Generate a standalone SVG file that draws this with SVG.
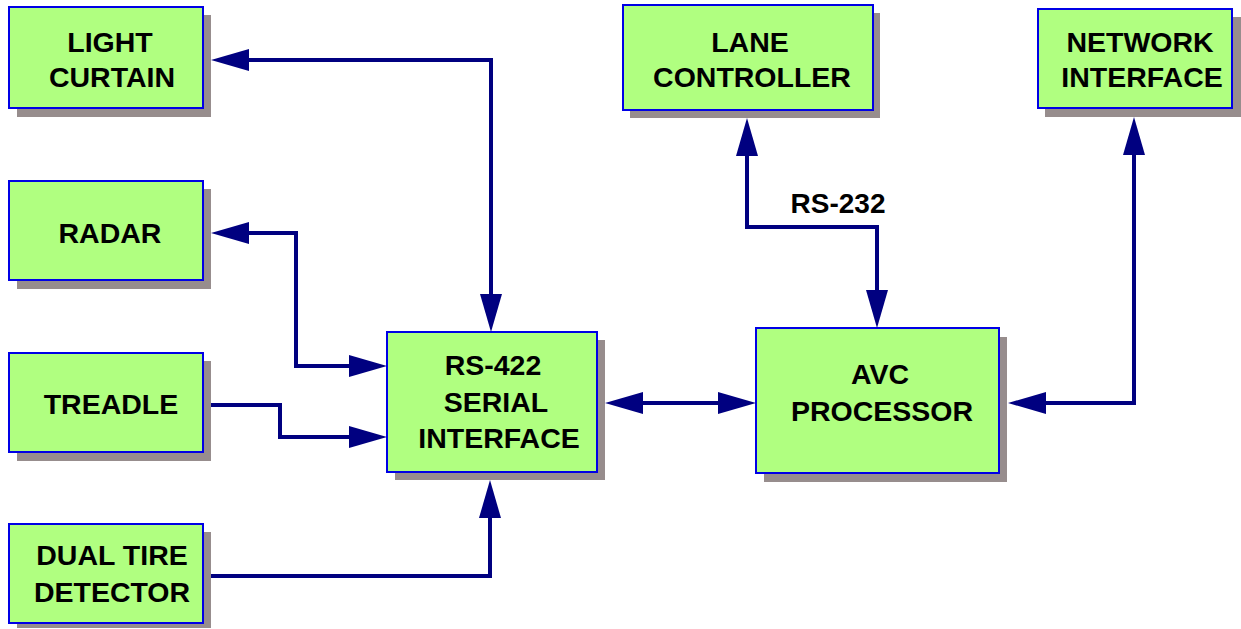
<svg xmlns="http://www.w3.org/2000/svg" width="1241" height="629" viewBox="0 0 1241 629">
<style>
.shadow{fill:#978D8D}
.box{fill:#B0FF80;stroke:#0000E6;stroke-width:2}
.lbl{font-family:"Liberation Sans",Arial,sans-serif;font-weight:bold;font-size:28.5px;fill:#000;text-anchor:middle}
.wire{fill:none;stroke:#000080;stroke-width:4;stroke-linejoin:miter;stroke-linecap:butt}
.head{fill:#000080}
</style>
<rect width="1241" height="629" fill="#fff"/>
<g id="light-curtain">
<rect class="shadow" x="17" y="15" width="194" height="102"/>
<rect class="box" x="9" y="7" width="194" height="101"/>
<text class="lbl" x="110" y="52">LIGHT</text>
<text class="lbl" x="112" y="87">CURTAIN</text>
</g>
<g id="radar">
<rect class="shadow" x="17" y="189" width="194" height="100"/>
<rect class="box" x="9" y="181" width="194" height="99"/>
<text class="lbl" x="110" y="243">RADAR</text>
</g>
<g id="treadle">
<rect class="shadow" x="17" y="361" width="194" height="100"/>
<rect class="box" x="9" y="353" width="194" height="99"/>
<text class="lbl" x="111" y="414">TREADLE</text>
</g>
<g id="dual-tire-detector">
<rect class="shadow" x="17" y="532" width="194" height="96"/>
<rect class="box" x="9" y="524" width="194" height="99"/>
<text class="lbl" x="112" y="565">DUAL TIRE</text>
<text class="lbl" x="112" y="602">DETECTOR</text>
</g>
<g id="rs422-serial-interface">
<rect class="shadow" x="395" y="340" width="210" height="140"/>
<rect class="box" x="387" y="332" width="210" height="140"/>
<text class="lbl" x="493" y="375">RS-422</text>
<text class="lbl" x="496" y="412">SERIAL</text>
<text class="lbl" x="499" y="448">INTERFACE</text>
</g>
<g id="avc-processor">
<rect class="shadow" x="764" y="337" width="243" height="145"/>
<rect class="box" x="756" y="328" width="243" height="145"/>
<text class="lbl" x="880" y="384">AVC</text>
<text class="lbl" x="882" y="421">PROCESSOR</text>
</g>
<g id="lane-controller">
<rect class="shadow" x="630" y="13" width="250" height="105"/>
<rect class="box" x="623" y="5" width="250" height="105"/>
<text class="lbl" x="750" y="52">LANE</text>
<text class="lbl" x="752" y="87">CONTROLLER</text>
</g>
<g id="network-interface">
<rect class="shadow" x="1045" y="17" width="196" height="100"/>
<rect class="box" x="1038" y="9" width="194" height="99"/>
<text class="lbl" x="1140" y="52">NETWORK</text>
<text class="lbl" x="1142" y="87">INTERFACE</text>
</g>
<g id="connectors">
<polyline class="wire" points="249,60 491,60 491,294"/>
<polygon class="head" points="211,60 249,49 249,71"/>
<polygon class="head" points="491,332 480,294 502,294"/>
<polyline class="wire" points="249,233 296,233 296,366 349,366"/>
<polygon class="head" points="211,233 249,222 249,244"/>
<polygon class="head" points="387,366 349,355 349,377"/>
<polyline class="wire" points="211,405 280,405 280,437 349,437"/>
<polygon class="head" points="387,437 349,426 349,448"/>
<polyline class="wire" points="211,576 490,576 490,518"/>
<polygon class="head" points="490,480 479,518 501,518"/>
<line class="wire" x1="643" y1="403" x2="718" y2="403"/>
<polygon class="head" points="605,403 643,392 643,414"/>
<polygon class="head" points="756,403 718,392 718,414"/>
<polyline class="wire" points="747,156 747,227 877,227 877,290"/>
<polygon class="head" points="747,118 736,156 758,156"/>
<polygon class="head" points="877,328 866,290 888,290"/>
<text class="lbl" x="838" y="213" style="font-size:28px">RS-232</text>
<polyline class="wire" points="1046,403 1134,403 1134,155"/>
<polygon class="head" points="1008,403 1046,392 1046,414"/>
<polygon class="head" points="1134,117 1123,155 1145,155"/>
</g>
</svg>
